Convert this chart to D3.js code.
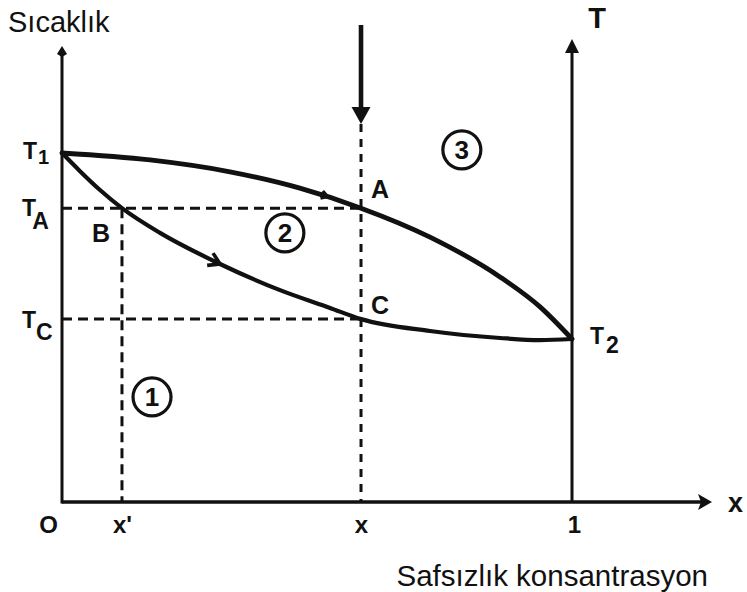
<!DOCTYPE html>
<html>
<head>
<meta charset="utf-8">
<script src="https://cdn.jsdelivr.net/npm/d3@7"></script>
<style>
  html, body { margin: 0; padding: 0; background: #fff; }
  svg { display: block; }
  text { font-family: "Liberation Sans", Arial, Helvetica, sans-serif; fill: #111; }
  .bold { font-weight: bold; }
</style>
</head>
<body>
<svg id="chart" width="747" height="592"></svg>
<script>
// Binary phase diagram: liquidus (upper) and solidus (lower) curves
// between the melting points T1 (pure host, x = 0) and T2 (x = 1).

// Liquidus curve: impurity concentration vs. temperature (relative units)
const liquidusX = [0, 0.1725, 0.3294, 0.4647, 0.5863, 0.7216, 0.8588, 0.9373, 1.0];
const liquidusT = [1.0, 0.980, 0.946, 0.900, 0.842, 0.759, 0.645, 0.559, 0.467];

// Solidus curve
const solidusX = [0, 0.0353, 0.0745, 0.1176, 0.1922, 0.3098, 0.4275, 0.5255, 0.5863, 0.7216, 0.8588, 0.9373, 1.0];
const solidusT = [1.0, 0.948, 0.894, 0.842, 0.771, 0.682, 0.607, 0.556, 0.524, 0.490, 0.470, 0.464, 0.467];

// Characteristic temperatures
const tempNames = ["T1", "TA", "TC", "T2"];
const tempValues = [1.0, 0.842, 0.524, 0.467];

// Concentrations marked on the x axis
const xTickValues = [0, 0.1176, 0.5863, 1];
const xTickLabels = ["O", "x'", "x", "1"];

// Phase regions (1 solid, 2 solid + liquid, 3 liquid)
const regionNames = ["1", "2", "3"];
const regionX = [0.1765, 0.437, 0.784];
const regionT = [0.301, 0.771, 1.009];

// Direction arrows along the curves (concentration where each sits)
const liquidusArrowX = 0.52;
const solidusArrowX = 0.31;

const svg = d3.select("#chart");
const x = d3.scaleLinear().domain([0, 1]).range([62, 572]);
const y = d3.scaleLinear().domain([0, 1]).range([502, 153]);

const ink = "#111";
const TA = tempValues[1], TC = tempValues[2];
const xA = xTickValues[2], xB = xTickValues[1];

// ---- axes ----
const axes = svg.append("g").attr("stroke", ink).attr("fill", "none");
axes.append("line").attr("x1", x(0)).attr("y1", y(0) + 1.5).attr("x2", x(0)).attr("y2", 52).attr("stroke-width", 3);
axes.append("line").attr("x1", x(0)).attr("y1", y(0)).attr("x2", 702).attr("y2", y(0)).attr("stroke-width", 3.4);
axes.append("line").attr("x1", x(1)).attr("y1", y(0)).attr("x2", x(1)).attr("y2", 48).attr("stroke-width", 3);

const heads = svg.append("g").attr("fill", ink);
// left (temperature) axis tip
heads.append("path").attr("d", `M${x(0)},46 L${x(0) + 5},54 L${x(0)},57 L${x(0) - 5},54 Z`);
// right T axis tip
heads.append("path").attr("d", `M${x(1)},39 L${x(1) + 7},53 L${x(1) - 7},53 Z`);
// x axis tip
heads.append("path").attr("d", `M712,${y(0)} L698,${y(0) - 8} L701,${y(0)} L698,${y(0) + 8} Z`);

// bottom tick labels through a d3 axis (no ticks, no domain line)
const xAxis = d3.axisBottom(x).tickValues(xTickValues).tickSize(0).tickPadding(14)
  .tickFormat((d, i) => xTickLabels[i]);
const gx = svg.append("g").attr("transform", `translate(0,${y(0)})`).call(xAxis);
gx.select(".domain").remove();
gx.selectAll("text")
  .attr("class", "bold")
  .style("font-size", "24px")
  .style("font-family", "'Liberation Sans', Arial, sans-serif")
  .attr("fill", ink)
  .attr("dx", (d, i) => i === 0 ? -14 : (i === 3 ? 2 : 0));

// ---- dashed construction lines ----
const dash = svg.append("g").attr("stroke", ink).attr("stroke-width", 3).attr("stroke-dasharray", "10,6").attr("fill", "none");
dash.append("line").attr("x1", x(0)).attr("x2", x(xA)).attr("y1", y(TA)).attr("y2", y(TA));
dash.append("line").attr("x1", x(0)).attr("x2", x(xA)).attr("y1", y(TC)).attr("y2", y(TC));
dash.append("line").attr("x1", x(xB)).attr("x2", x(xB)).attr("y1", y(TA)).attr("y2", y(0));
dash.append("line").attr("x1", x(xA)).attr("x2", x(xA)).attr("y1", 124).attr("y2", y(0))
  .attr("stroke-dasharray", "8,7");

// ---- cooling arrow above x ----
svg.append("line").attr("x1", x(xA)).attr("x2", x(xA)).attr("y1", 25).attr("y2", 110)
  .attr("stroke", ink).attr("stroke-width", 4.6);
svg.append("path").attr("fill", ink)
  .attr("d", `M${x(xA)},124 L${x(xA) - 9.5},107 L${x(xA) + 9.5},107 Z`);

// ---- curves ----
const line = d3.line().x(d => x(d[0])).y(d => y(d[1])).curve(d3.curveMonotoneX);
const liquidus = d3.zip(liquidusX, liquidusT);
const solidus = d3.zip(solidusX, solidusT);

const liqPath = svg.append("path").datum(liquidus).attr("d", line)
  .attr("fill", "none").attr("stroke", ink).attr("stroke-width", 4.8).attr("stroke-linecap", "round");
const solPath = svg.append("path").datum(solidus).attr("d", line)
  .attr("fill", "none").attr("stroke", ink).attr("stroke-width", 4.2).attr("stroke-linecap", "round");

// chevron arrows along a curve, positioned at a given concentration
function arrowOn(pathSel, cx, size) {
  const node = pathSel.node();
  const total = node.getTotalLength();
  let lo = 0, hi = total;
  const target = x(cx);
  for (let k = 0; k < 40; k++) {
    const mid = (lo + hi) / 2;
    if (node.getPointAtLength(mid).x < target) lo = mid; else hi = mid;
  }
  const p = node.getPointAtLength(lo);
  const q = node.getPointAtLength(Math.min(total, lo + 2));
  const ang = Math.atan2(q.y - p.y, q.x - p.x);
  const a1 = ang + Math.PI - 0.55, a2 = ang + Math.PI + 0.55;
  svg.append("path")
    .attr("d", `M${p.x + size * Math.cos(a1)},${p.y + size * Math.sin(a1)} L${p.x},${p.y} L${p.x + size * Math.cos(a2)},${p.y + size * Math.sin(a2)}`)
    .attr("fill", "none").attr("stroke", ink).attr("stroke-width", 3.6).attr("stroke-linejoin", "miter");
}
arrowOn(liqPath, liquidusArrowX, 7);
arrowOn(solPath, solidusArrowX, 13);

// ---- temperature labels (T with subscript) ----
function tLabel(px, py, sub, subDx, subDy, subSize) {
  const t = svg.append("text").attr("class", "bold").attr("x", px).attr("y", py).style("font-size", "23px");
  t.append("tspan").text("T");
  t.append("tspan").attr("dx", subDx).attr("dy", subDy).style("font-size", subSize + "px").text(sub);
}
tLabel(23, y(tempValues[0]) + 6, "1", 1, 5, 20);
tLabel(22, y(tempValues[1]) + 8, "A", -2, 13, 23);
tLabel(22, y(tempValues[2]) + 9, "C", 0, 12, 23);
tLabel(590, y(tempValues[3]) + 5, "2", 2, 9, 23);

// ---- point labels ----
const ptLbl = svg.append("g").attr("class", "bold").style("font-size", "25px");
ptLbl.append("text").attr("x", x(xA) + 10).attr("y", y(TA) - 10).text("A");
ptLbl.append("text").attr("x", x(xB) - 30).attr("y", y(TA) + 34).text("B");
ptLbl.append("text").attr("x", x(xA) + 10).attr("y", y(TC) - 5).text("C");

// ---- axis titles ----
svg.append("text").attr("x", 8).attr("y", 32).style("font-size", "29px").text("Sıcaklık");
svg.append("text").attr("x", 708).attr("y", 586).attr("text-anchor", "end").style("font-size", "29.5px").text("Safsızlık konsantrasyon");
svg.append("text").attr("class", "bold").attr("x", 597).attr("y", 28).attr("text-anchor", "middle").style("font-size", "29px").text("T");
svg.append("text").attr("class", "bold").attr("x", 728).attr("y", 512).style("font-size", "27px").text("x");

// ---- circled region numbers ----
const regions = svg.append("g").selectAll("g").data(regionNames).join("g")
  .attr("transform", (d, i) => `translate(${x(regionX[i])},${y(regionT[i])})`);
regions.append("circle").attr("r", 19).attr("fill", "none").attr("stroke", ink).attr("stroke-width", 3.2);
regions.append("text").attr("class", "bold").attr("text-anchor", "middle").attr("dy", 9)
  .style("font-size", "26px").text(d => d);
</script>
</body>
</html>
